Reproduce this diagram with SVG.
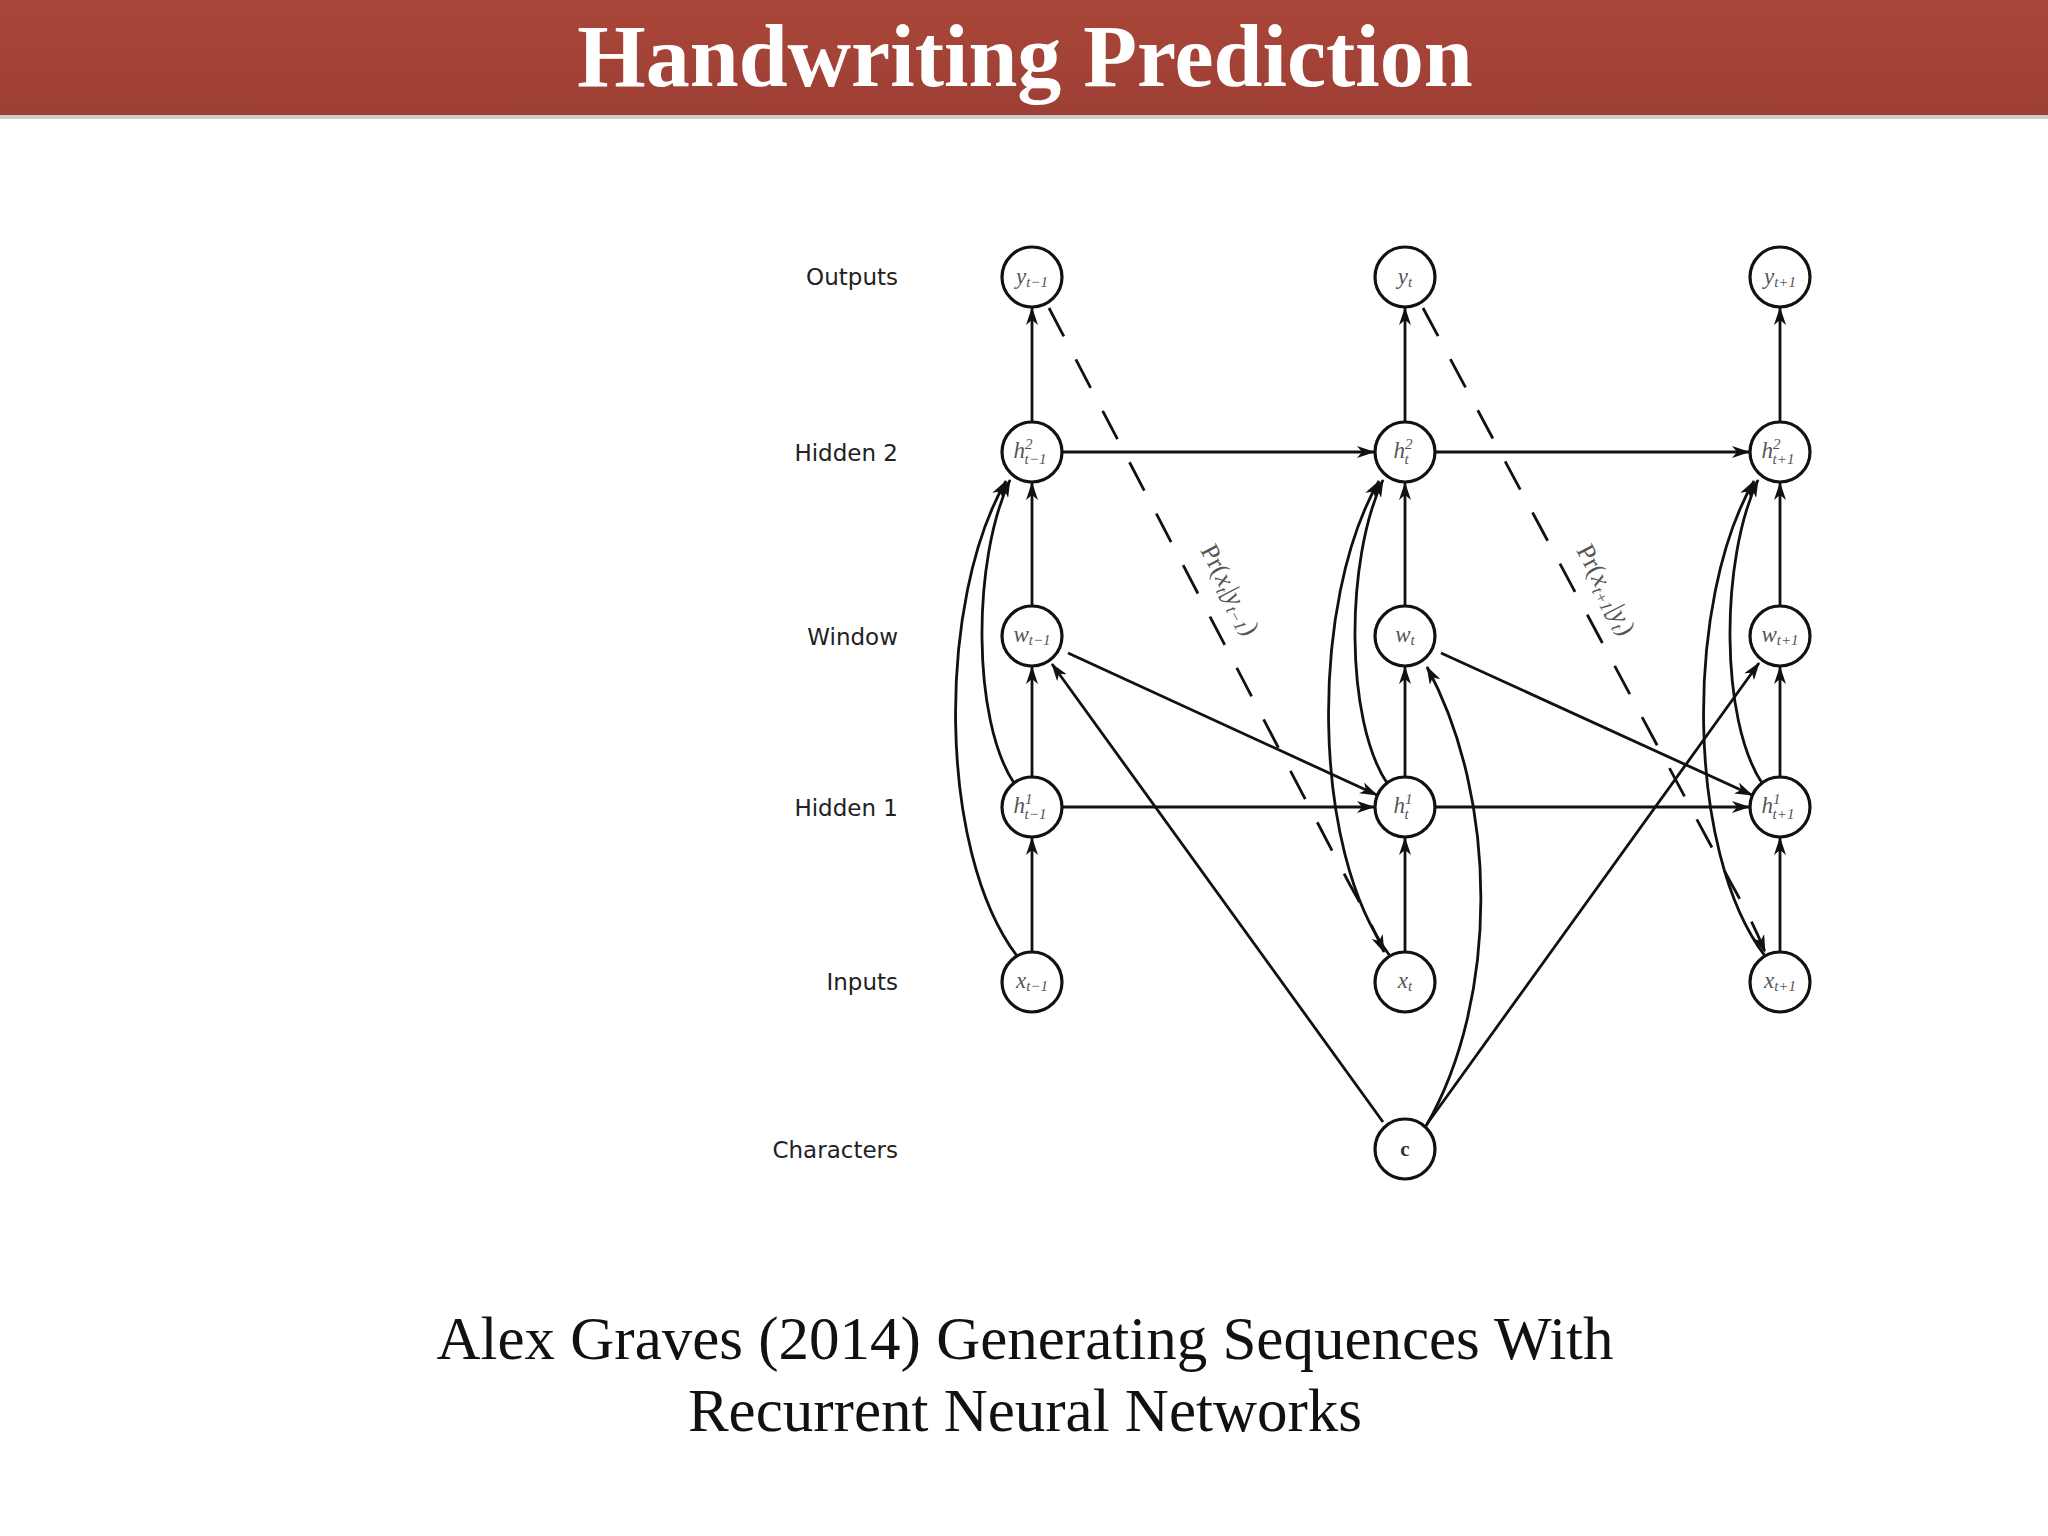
<svg xmlns="http://www.w3.org/2000/svg" width="2048" height="1536" viewBox="0 0 2048 1536">
<defs>
<marker id="ah" viewBox="0 0 18 12" refX="17" refY="6" markerWidth="18" markerHeight="12" markerUnits="userSpaceOnUse" orient="auto">
<path d="M0,0 L18,6 L0,12 L5,6 z" fill="#111"/>
</marker>
<linearGradient id="bar" x1="0" y1="0" x2="0" y2="1"><stop offset="0" stop-color="#a9463a"/><stop offset="1" stop-color="#9e3f33"/></linearGradient>
</defs>
<style>
.n{fill:#fff;stroke:#111;stroke-width:3.2}
.t{font-family:"Liberation Serif",serif;font-style:italic;font-size:23px;fill:#555;text-anchor:middle}
.e{fill:none;stroke:#111;stroke-width:2.8;marker-end:url(#ah)}
.d{fill:none;stroke:#111;stroke-width:2.8;stroke-dasharray:32 26;marker-end:url(#ah)}
.lab{font-family:"DejaVu Sans",sans-serif;font-size:23px;fill:#222;text-anchor:end}
.pr{font-family:"Liberation Serif",serif;font-size:26px;fill:#555}
</style>
<rect width="2048" height="1536" fill="#fff"/>
<rect x="0" y="0" width="2048" height="115" fill="url(#bar)"/>
<rect x="0" y="115" width="2048" height="4" fill="#ccc"/>
<text x="1025" y="86" font-family="Liberation Serif,serif" font-weight="bold" font-size="88" fill="#fff" text-anchor="middle">Handwriting Prediction</text>

<g id="labels">
<text class="lab" x="898" y="285">Outputs</text>
<text class="lab" x="898" y="461">Hidden 2</text>
<text class="lab" x="898" y="645">Window</text>
<text class="lab" x="898" y="816">Hidden 1</text>
<text class="lab" x="898" y="990">Inputs</text>
<text class="lab" x="898" y="1158">Characters</text>
</g>

<g id="connectors">
<path class="e" d="M1032,422 V308"/><path class="e" d="M1405,422 V308"/><path class="e" d="M1780,422 V308"/>
<path class="e" d="M1032,606 V483"/><path class="e" d="M1405,606 V483"/><path class="e" d="M1780,606 V483"/>
<path class="e" d="M1032,777 V667"/><path class="e" d="M1405,777 V667"/><path class="e" d="M1780,777 V667"/>
<path class="e" d="M1032,952 V838"/><path class="e" d="M1405,952 V838"/><path class="e" d="M1780,952 V838"/>
<path class="e" d="M1062,452 H1374"/><path class="e" d="M1435,452 H1749"/>
<path class="e" d="M1062,807 H1374"/><path class="e" d="M1435,807 H1749"/>
<path class="e" d="M1014,783 C972,720 972,560 1010,480"/>
<path class="e" d="M1387,783 C1345,720 1345,560 1383,480"/>
<path class="e" d="M1762,783 C1720,720 1720,560 1758,480"/>
<path class="e" d="M1017,956 C937,850 937,600 1006,481"/>
<path class="e" d="M1390,956 C1310,850 1310,600 1379,481"/>
<path class="e" d="M1765,956 C1685,850 1685,600 1754,481"/>
<path class="e" d="M1068,653 L1377,795"/>
<path class="e" d="M1441,653 L1752,795"/>
<path class="e" d="M1383,1122 L1052,664"/>
<path class="e" d="M1426,1126 C1499,1000 1499,800 1427,667"/>
<path class="e" d="M1427,1124 L1759,663"/>
<path class="d" d="M1049,308 L1350,885 Q1370,920 1384,952"/>
<path class="d" d="M1423,308 L1732,885 Q1752,920 1765,952"/>
<text class="pr" transform="translate(1200,550) rotate(62.5)">Pr(<tspan font-style="italic">x</tspan><tspan font-style="italic" font-size="17" dy="5">t</tspan><tspan dy="-5">|</tspan><tspan font-style="italic">y</tspan><tspan font-style="italic" font-size="17" dy="5">t−1</tspan><tspan dy="-5">)</tspan></text>
<text class="pr" transform="translate(1576,550) rotate(62.5)">Pr(<tspan font-style="italic">x</tspan><tspan font-style="italic" font-size="17" dy="5">t+1</tspan><tspan dy="-5">|</tspan><tspan font-style="italic">y</tspan><tspan font-style="italic" font-size="17" dy="5">t</tspan><tspan dy="-5">)</tspan></text>
</g>

<g id="y1"><circle class="n" cx="1032" cy="277" r="30"/><text class="t" x="1032" y="284">y<tspan font-size="15" dy="3">t−1</tspan></text></g>
<g id="y2"><circle class="n" cx="1405" cy="277" r="30"/><text class="t" x="1405" y="284">y<tspan font-size="15" dy="3">t</tspan></text></g>
<g id="y3"><circle class="n" cx="1780" cy="277" r="30"/><text class="t" x="1780" y="284">y<tspan font-size="15" dy="3">t+1</tspan></text></g>
<g id="h2a"><circle class="n" cx="1032" cy="452" r="30"/><text class="t" x="1030" y="458">h<tspan font-size="15" dy="-9">2</tspan><tspan font-size="15" dx="-8" dy="15">t−1</tspan></text></g>
<g id="h2b"><circle class="n" cx="1405" cy="452" r="30"/><text class="t" x="1403" y="458">h<tspan font-size="15" dy="-9">2</tspan><tspan font-size="15" dx="-8" dy="15">t</tspan></text></g>
<g id="h2c"><circle class="n" cx="1780" cy="452" r="30"/><text class="t" x="1778" y="458">h<tspan font-size="15" dy="-9">2</tspan><tspan font-size="15" dx="-8" dy="15">t+1</tspan></text></g>
<g id="w1"><circle class="n" cx="1032" cy="636" r="30"/><text class="t" x="1032" y="642">w<tspan font-size="15" dy="3">t−1</tspan></text></g>
<g id="w2"><circle class="n" cx="1405" cy="636" r="30"/><text class="t" x="1405" y="642">w<tspan font-size="15" dy="3">t</tspan></text></g>
<g id="w3"><circle class="n" cx="1780" cy="636" r="30"/><text class="t" x="1780" y="642">w<tspan font-size="15" dy="3">t+1</tspan></text></g>
<g id="h1a"><circle class="n" cx="1032" cy="807" r="30"/><text class="t" x="1030" y="813">h<tspan font-size="15" dy="-9">1</tspan><tspan font-size="15" dx="-8" dy="15">t−1</tspan></text></g>
<g id="h1b"><circle class="n" cx="1405" cy="807" r="30"/><text class="t" x="1403" y="813">h<tspan font-size="15" dy="-9">1</tspan><tspan font-size="15" dx="-8" dy="15">t</tspan></text></g>
<g id="h1c"><circle class="n" cx="1780" cy="807" r="30"/><text class="t" x="1778" y="813">h<tspan font-size="15" dy="-9">1</tspan><tspan font-size="15" dx="-8" dy="15">t+1</tspan></text></g>
<g id="x1"><circle class="n" cx="1032" cy="982" r="30"/><text class="t" x="1032" y="988">x<tspan font-size="15" dy="3">t−1</tspan></text></g>
<g id="x2"><circle class="n" cx="1405" cy="982" r="30"/><text class="t" x="1405" y="988">x<tspan font-size="15" dy="3">t</tspan></text></g>
<g id="x3"><circle class="n" cx="1780" cy="982" r="30"/><text class="t" x="1780" y="988">x<tspan font-size="15" dy="3">t+1</tspan></text></g>
<g id="c"><circle class="n" cx="1405" cy="1149" r="30"/><text x="1405" y="1156" font-family="Liberation Serif,serif" font-weight="bold" font-size="21" fill="#333" text-anchor="middle">c</text></g>

<g id="citation" font-family="Liberation Serif,serif" font-size="61" fill="#111" text-anchor="middle">
<text x="1025" y="1359">Alex Graves (2014) Generating Sequences With</text>
<text x="1025" y="1431">Recurrent Neural Networks</text>
</g>
</svg>
